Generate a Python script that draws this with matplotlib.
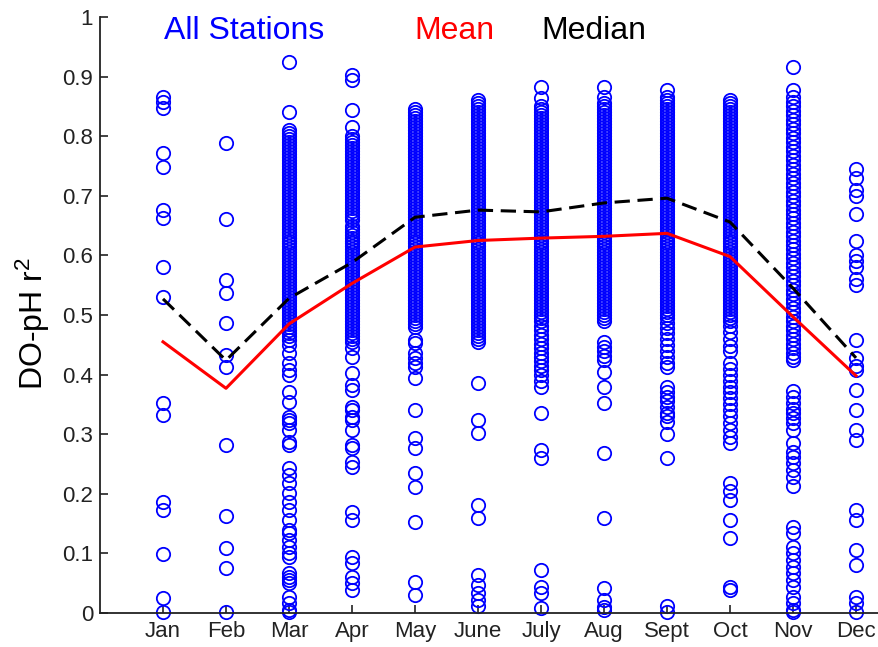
import matplotlib
matplotlib.use("Agg")
import matplotlib.pyplot as plt

plt.rcParams['font.family'] = ['Liberation Sans', 'DejaVu Sans']
plt.rcParams['mathtext.fontset'] = 'custom'
plt.rcParams['mathtext.rm'] = 'Liberation Sans'
plt.rcParams['mathtext.default'] = 'regular'

months = ['Jan', 'Feb', 'Mar', 'Apr', 'May', 'June', 'July', 'Aug', 'Sept', 'Oct', 'Nov', 'Dec']

# r^2 per station
jan = [0.865, 0.857, 0.847, 0.772, 0.748, 0.676, 0.663, 0.580, 0.530, 0.352, 0.332,
       0.186, 0.173, 0.099, 0.025, 0.002]
feb = [0.789, 0.661, 0.559, 0.537, 0.486, 0.433, 0.413, 0.282, 0.163, 0.109, 0.075, 0.001]
mar = [0.925, 0.841,
       0.810, 0.805, 0.800, 0.795, 0.790, 0.785, 0.780, 0.775, 0.770, 0.765, 0.760, 0.755,
       0.750, 0.745, 0.740, 0.735, 0.730, 0.725, 0.720, 0.715, 0.710, 0.705, 0.700, 0.695,
       0.690, 0.685, 0.680, 0.675, 0.670, 0.665, 0.660, 0.655, 0.650, 0.645, 0.640, 0.635,
       0.630, 0.625, 0.620, 0.615, 0.610, 0.605, 0.600, 0.595, 0.590, 0.585, 0.580, 0.575,
       0.570, 0.565, 0.560, 0.555, 0.550, 0.545, 0.540, 0.535, 0.530, 0.525, 0.520, 0.515,
       0.510, 0.505, 0.500, 0.495, 0.490, 0.485, 0.480, 0.475, 0.470, 0.465,
       0.458, 0.450, 0.436, 0.419, 0.408, 0.399, 0.371, 0.354, 0.329, 0.324, 0.318, 0.307,
       0.287, 0.282, 0.243, 0.232, 0.218, 0.201, 0.186, 0.173, 0.156, 0.139, 0.134, 0.122,
       0.111, 0.101, 0.094, 0.067, 0.060, 0.055, 0.050, 0.027, 0.017, 0.005, 0.001]
apr = [0.903, 0.895, 0.844, 0.816,
       0.800, 0.795, 0.790, 0.785, 0.780, 0.775, 0.770, 0.765, 0.760, 0.755,
       0.750, 0.745, 0.740, 0.735, 0.730, 0.725, 0.720, 0.715, 0.710, 0.705, 0.700, 0.695,
       0.690, 0.685, 0.680, 0.675, 0.670, 0.665, 0.660, 0.650, 0.645, 0.640, 0.635,
       0.630, 0.625, 0.620, 0.615, 0.610, 0.605, 0.600, 0.595, 0.590, 0.585, 0.580, 0.575,
       0.570, 0.565, 0.560, 0.555, 0.550, 0.545, 0.540, 0.535, 0.530, 0.525, 0.520, 0.515,
       0.510, 0.505, 0.500, 0.495, 0.490, 0.485, 0.480, 0.475, 0.470, 0.465, 0.460,
       0.455, 0.445, 0.430, 0.403, 0.383, 0.374, 0.346, 0.341, 0.329, 0.324, 0.307, 0.282,
       0.277, 0.254, 0.245, 0.170, 0.156, 0.094, 0.084, 0.060, 0.050, 0.039]
may = [0.845, 0.840, 0.835, 0.830, 0.825, 0.820, 0.815, 0.810, 0.805, 0.800, 0.795, 0.790,
       0.785, 0.780, 0.775, 0.770, 0.765, 0.760, 0.755, 0.750, 0.745, 0.740, 0.735, 0.730,
       0.725, 0.720, 0.715, 0.710, 0.705, 0.700, 0.695, 0.690, 0.685, 0.680, 0.675, 0.670,
       0.665, 0.660, 0.655, 0.650, 0.645, 0.640, 0.635, 0.630, 0.625, 0.620, 0.615, 0.610,
       0.605, 0.600, 0.595, 0.590, 0.585, 0.580, 0.575, 0.570, 0.565, 0.560, 0.555, 0.550,
       0.545, 0.540, 0.535, 0.530, 0.525, 0.520, 0.515, 0.510, 0.505, 0.500, 0.495, 0.490,
       0.485, 0.480, 0.458, 0.453, 0.436, 0.428, 0.420, 0.413, 0.394, 0.341, 0.294, 0.277,
       0.235, 0.211, 0.153, 0.052, 0.030]
june = [0.861, 0.855, 0.850, 0.845, 0.840, 0.835, 0.830, 0.825, 0.820, 0.815, 0.810, 0.805,
        0.800, 0.795, 0.790, 0.785, 0.780, 0.775, 0.770, 0.765, 0.760, 0.755, 0.750, 0.745,
        0.740, 0.735, 0.730, 0.725, 0.720, 0.715, 0.710, 0.705, 0.700, 0.695, 0.690, 0.685,
        0.680, 0.675, 0.670, 0.665, 0.660, 0.655, 0.650, 0.645, 0.640, 0.635, 0.630, 0.625,
        0.620, 0.615, 0.610, 0.605, 0.600, 0.595, 0.590, 0.585, 0.580, 0.575, 0.570, 0.565,
        0.560, 0.555, 0.550, 0.545, 0.540, 0.535, 0.530, 0.525, 0.520, 0.515, 0.510, 0.505,
        0.500, 0.495, 0.490, 0.485, 0.480, 0.475, 0.470, 0.465, 0.460, 0.455, 0.386, 0.324,
        0.302, 0.181, 0.159, 0.064, 0.047, 0.034, 0.022, 0.011]
july = [0.883, 0.864, 0.850, 0.845, 0.840, 0.835, 0.830, 0.825, 0.820, 0.815, 0.810, 0.805,
        0.800, 0.795, 0.790, 0.785, 0.780, 0.775, 0.770, 0.765, 0.760, 0.755, 0.750, 0.745,
        0.740, 0.735, 0.730, 0.725, 0.720, 0.715, 0.710, 0.705, 0.700, 0.695, 0.690, 0.685,
        0.680, 0.675, 0.670, 0.665, 0.660, 0.655, 0.650, 0.645, 0.640, 0.635, 0.630, 0.625,
        0.620, 0.615, 0.610, 0.605, 0.600, 0.595, 0.590, 0.585, 0.580, 0.575, 0.570, 0.565,
        0.560, 0.555, 0.550, 0.545, 0.540, 0.535, 0.530, 0.525, 0.520, 0.515, 0.510, 0.505,
        0.500, 0.495, 0.490, 0.482, 0.475, 0.467, 0.460, 0.452, 0.445, 0.437, 0.430, 0.422,
        0.415, 0.407, 0.400, 0.390, 0.380, 0.336, 0.273, 0.260, 0.072, 0.044, 0.034, 0.008]
aug = [0.882, 0.866, 0.855, 0.850, 0.845, 0.840, 0.835, 0.830, 0.825, 0.820, 0.815, 0.810,
       0.805, 0.800, 0.795, 0.790, 0.785, 0.780, 0.775, 0.770, 0.765, 0.760, 0.755, 0.750,
       0.745, 0.740, 0.735, 0.730, 0.725, 0.720, 0.715, 0.710, 0.705, 0.700, 0.695, 0.690,
       0.685, 0.680, 0.675, 0.670, 0.665, 0.660, 0.655, 0.650, 0.645, 0.640, 0.635, 0.630,
       0.625, 0.620, 0.615, 0.610, 0.605, 0.600, 0.595, 0.590, 0.585, 0.580, 0.575, 0.570,
       0.565, 0.560, 0.555, 0.550, 0.545, 0.540, 0.535, 0.530, 0.525, 0.520, 0.515, 0.510,
       0.505, 0.500, 0.495, 0.490, 0.455, 0.447, 0.440, 0.432, 0.425, 0.405, 0.380, 0.352,
       0.268, 0.159, 0.042, 0.022, 0.010, 0.005]
sept = [0.877, 0.866, 0.860, 0.855, 0.850, 0.845, 0.840, 0.835, 0.830, 0.825, 0.820, 0.815,
        0.810, 0.805, 0.800, 0.795, 0.790, 0.785, 0.780, 0.775, 0.770, 0.765, 0.760, 0.755,
        0.750, 0.745, 0.740, 0.735, 0.730, 0.725, 0.720, 0.715, 0.710, 0.705, 0.700, 0.695,
        0.690, 0.685, 0.680, 0.675, 0.670, 0.665, 0.660, 0.655, 0.650, 0.645, 0.640, 0.635,
        0.630, 0.625, 0.620, 0.615, 0.610, 0.605, 0.600, 0.595, 0.590, 0.585, 0.580, 0.575,
        0.570, 0.565, 0.560, 0.555, 0.550, 0.545, 0.540, 0.535, 0.530, 0.525, 0.520, 0.515,
        0.510, 0.505, 0.500, 0.495, 0.487, 0.478, 0.470, 0.460, 0.450, 0.440, 0.430, 0.420,
        0.413, 0.380, 0.370, 0.362, 0.355, 0.345, 0.335, 0.330, 0.320, 0.301, 0.260, 0.011,
        0.002]
octo = [0.861, 0.855, 0.850, 0.845, 0.840, 0.835, 0.830, 0.825, 0.820, 0.815, 0.810, 0.805,
        0.800, 0.795, 0.790, 0.785, 0.780, 0.775, 0.770, 0.765, 0.760, 0.755, 0.750, 0.745,
        0.740, 0.735, 0.730, 0.725, 0.720, 0.715, 0.710, 0.705, 0.700, 0.695, 0.690, 0.685,
        0.680, 0.675, 0.670, 0.665, 0.660, 0.655, 0.650, 0.645, 0.640, 0.635, 0.630, 0.625,
        0.620, 0.615, 0.610, 0.605, 0.600, 0.595, 0.590, 0.585, 0.580, 0.575, 0.570, 0.565,
        0.560, 0.555, 0.550, 0.545, 0.540, 0.535, 0.530, 0.525, 0.520, 0.515, 0.510, 0.505,
        0.500, 0.495, 0.490, 0.482, 0.472, 0.460, 0.448, 0.440, 0.419, 0.410, 0.400, 0.390,
        0.380, 0.370, 0.360, 0.350, 0.340, 0.330, 0.318, 0.307, 0.295, 0.285, 0.218, 0.205,
        0.190, 0.156, 0.126, 0.044, 0.039]
nov = [0.916, 0.877, 0.866, 0.858, 0.850, 0.842, 0.835, 0.827, 0.820, 0.812, 0.805, 0.797,
       0.790, 0.782, 0.775, 0.767, 0.760, 0.752, 0.745, 0.737, 0.730, 0.722, 0.715, 0.707,
       0.700, 0.692, 0.685, 0.677, 0.670, 0.662, 0.655, 0.647, 0.640, 0.632, 0.625, 0.617,
       0.610, 0.602, 0.595, 0.587, 0.580, 0.572, 0.565, 0.557, 0.550, 0.542, 0.535, 0.527,
       0.520, 0.512, 0.505, 0.497, 0.490, 0.482, 0.475, 0.467, 0.460, 0.452, 0.445, 0.437,
       0.430, 0.425, 0.372, 0.362, 0.352, 0.342, 0.335, 0.327, 0.318, 0.307, 0.285, 0.270,
       0.262, 0.252, 0.240, 0.228, 0.213, 0.144, 0.134, 0.111, 0.101, 0.089, 0.078, 0.067,
       0.055, 0.044, 0.027, 0.017, 0.005, 0.001]
dec = [0.745, 0.730, 0.710, 0.700, 0.670, 0.625, 0.600, 0.590, 0.580, 0.560, 0.550, 0.458,
       0.428, 0.415, 0.408, 0.374, 0.341, 0.307, 0.290, 0.173, 0.156, 0.106, 0.081, 0.027,
       0.017, 0.002]
stations = [jan, feb, mar, apr, may, june, july, aug, sept, octo, nov, dec]

mean_r2 = [0.455, 0.377, 0.485, 0.553, 0.614, 0.625, 0.629, 0.632, 0.637, 0.598, 0.497, 0.398]
median_r2 = [0.527, 0.424, 0.528, 0.588, 0.664, 0.676, 0.673, 0.688, 0.696, 0.656, 0.545, 0.428]

fig = plt.figure(figsize=(8.79, 6.47), dpi=100)
ax = fig.add_axes([100 / 879, 34 / 647, 779 / 879, 596 / 647])

for i, vals in enumerate(stations):
    ax.plot([i + 1] * len(vals), vals, 'o', mfc='none', mec='#0000ff', ms=9.6, mew=1.3,
            zorder=2, clip_on=False)

x = range(1, 13)
ax.plot(x, mean_r2, '-', color='#ff0000', lw=2.2, zorder=3)
ax.plot(x, median_r2, '--', color='black', lw=2.2, dashes=(5, 2.5), zorder=3)

ax.set_xlim(0, 12.365)
ax.set_ylim(0, 1)
ax.set_xticks(list(x))
ax.set_xticklabels(months)
ax.set_yticks([i / 10 for i in range(11)])
ax.set_yticklabels(['0', '0.1', '0.2', '0.3', '0.4', '0.5', '0.6', '0.7', '0.8', '0.9', '1'])
ax.tick_params(direction='in', length=6, width=1.2, labelsize=16, colors='#222222')
ax.tick_params(axis='x', pad=6)
ax.tick_params(axis='y', pad=5)
for s in ['top', 'right']:
    ax.spines[s].set_visible(False)
for s in ['left', 'bottom']:
    ax.spines[s].set_linewidth(1.3)
    ax.spines[s].set_color('#222222')

ax.set_ylabel('DO-pH r$^2$', fontsize=23)
ax.yaxis.set_label_coords(-0.062, 0.485)

fig.text(244 / 879, 1 - 31 / 647, 'All Stations', color='#0000ff', fontsize=23,
         ha='center', va='center')
fig.text(454 / 879, 1 - 31 / 647, 'Mean', color='#ff0000', fontsize=23,
         ha='center', va='center')
fig.text(594 / 879, 1 - 31 / 647, 'Median', color='black', fontsize=23,
         ha='center', va='center')

fig.savefig('out.png', dpi=100)
